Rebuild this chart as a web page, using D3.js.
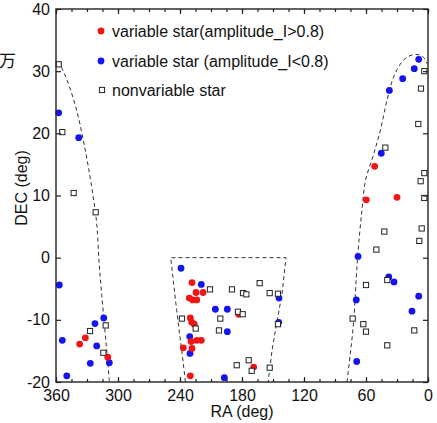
<!DOCTYPE html>
<html><head><meta charset="utf-8">
<script src="https://cdn.jsdelivr.net/npm/d3@7"></script>
<style>
html,body{margin:0;padding:0;background:#fff;}
svg{display:block;font-family:"Liberation Sans",Arial,sans-serif;}
</style></head>
<body><svg id="c" width="437" height="423"></svg>
<script>
// ---- data (RA deg, DEC deg) ----
const redStars = [
  [337.1,-13.9],[331.6,-12.9],[309.9,-16.0],
  [228.4,-4.0],[224.5,-5.6],[217.7,-5.6],[231.0,-6.5],[227.7,-6.8],[223.8,-6.8],
  [230.0,-9.7],[228.7,-10.4],[226.2,-10.7],[229.3,-13.5],[223.8,-13.3],[219.4,-13.3],
  [236.8,-14.5],[228.4,-14.6],[230.0,-19.0],[183.2,-9.1],[168.7,-17.6],
  [51.6,14.7],[59.7,9.3],[30.0,9.7]
];
const blueStars = [
  [357.4,23.3],[338.0,19.3],[356.8,-4.4],[353.9,-13.3],[349.6,-19.0],[322.3,-10.6],
  [313.8,-9.7],[320.6,-14.2],[326.8,-17.0],[308.4,-16.9],
  [239.0,-1.7],[219.4,-4.3],[205.8,-8.3],[230.6,-12.7],[230.3,-15.4],[194.2,-8.3],
  [194.2,-11.9],[144.2,-6.5],[144.5,-10.4],[197.1,-19.3],
  [67.7,0.2],[38.0,-3.1],[32.9,-3.9],[9.0,-6.2],[15.5,-8.6],[69.4,-6.8],[69.0,-16.7],
  [9.0,31.9],[13.3,30.4],[24.5,28.8],[37.4,26.9],[45.2,16.8]
];
const nonvarStars = [
  [357.4,31.1],[353.9,20.2],[342.9,10.4],[321.6,7.3],[327.1,-11.8],[311.9,-10.9],[314.2,-15.3],
  [211.0,-5.1],[238.1,-9.8],[224.8,-11.4],[201.0,-9.8],[202.3,-11.7],[189.7,-5.1],[179.0,-5.7],
  [175.8,-5.9],[162.9,-4.1],[153.2,-5.7],[145.2,-5.8],[183.9,-8.7],[179.3,-9.1],[145.2,-10.7],
  [173.5,-16.5],[185.1,-17.3],[170.6,-18.2],[153.2,-17.7],
  [42.3,4.2],[6.1,4.7],[8.4,2.7],[50.0,1.3],[60.0,-4.4],[39.4,-3.6],[72.9,-9.8],[62.6,-10.7],
  [60.0,-11.9],[13.3,-11.7],[39.4,-14.1],
  [3.6,30.0],[6.8,27.2],[9.4,21.5],[41.3,17.7],[3.6,13.6],[7.1,12.3],[3.6,9.6]
];
// observable-region boundaries (dashed)
const boundaryLeft = [
  [359.0,31.5],[356.1,31.0],[348.1,28.0],[340.0,23.7],[333.6,18.9],[328.7,14.6],[323.9,9.7],
  [320.6,5.5],[318.4,-0.5],[315.8,-5.9],[312.6,-11.8],[310.3,-16.1],[308.3,-20]
];
const boundaryRight = [
  [78.4,-20],[75.2,-15.5],[71.9,-10.2],[69.4,-3.2],[67.1,2.2],[63.9,7.6],[60.5,12.4],
  [52.5,16.7],[46.1,20.5],[39.7,25.3],[33.2,29.1],[25.2,31.5],[18.7,32.4],[10.6,32.7],
  [4.2,32.2],[1.0,31.2]
];
const boundaryMid = [
  [234.8,-20],[235.2,-19.3],[238.3,-15.0],[243.2,-8.5],[249.0,0],
  [137.4,0],[141.3,-5.9],[146.1,-10.2],[151.0,-15.0],[154.2,-19.3],[154.6,-20]
];
const xMajor = [360,300,240,180,120,60,0];
const xMinor = d3.range(0,361,15);
const yMajor = [40,30,20,10,0,-10,-20];
const legendLabels = ["variable star(amplitude_I>0.8)","variable star (amplitude_I<0.8)","nonvariable star"];
const xTitle = "RA (deg)", yTitle = "DEC (deg)";

// ---- layout ----
const L=56, R=428, T=9, B=382;
const svg = d3.select("#c");
const x = d3.scaleLinear().domain([360,0]).range([L,R]);
const y = d3.scaleLinear().domain([-20,40]).range([B,T]);
const RED="#f01414", BLUE="#1414ee";

// partial glyph at top-left
svg.append("text").attr("x",-1).attr("y",67).attr("font-family","'Noto Sans CJK SC'")
  .attr("font-size",17).attr("fill","#111").text("万");

// dashed boundaries
const line = d3.line().x(d=>x(d[0])).y(d=>y(d[1])).curve(d3.curveCatmullRom);
const lineMid = d3.line().x(d=>x(d[0])).y(d=>y(d[1])).curve(d3.curveLinear);
[boundaryLeft,boundaryRight].forEach(b=>{
  svg.append("path").attr("d",line(b)).attr("fill","none").attr("stroke","#333")
    .attr("stroke-width",1).attr("stroke-dasharray","4,3");
});
svg.append("path").attr("d",lineMid(boundaryMid)).attr("fill","none").attr("stroke","#333")
  .attr("stroke-width",1).attr("stroke-dasharray","4,3");

// markers
const S=5.2;
svg.append("g").selectAll("circle").data(blueStars).join("circle")
  .attr("cx",d=>x(d[0])).attr("cy",d=>y(d[1])).attr("r",3.4).attr("fill",BLUE);
svg.append("g").selectAll("circle").data(redStars).join("circle")
  .attr("cx",d=>x(d[0])).attr("cy",d=>y(d[1])).attr("r",3.4).attr("fill",RED);
svg.append("g").selectAll("rect").data(nonvarStars).join("rect")
  .attr("x",d=>x(d[0])-S/2).attr("y",d=>y(d[1])-S/2).attr("width",S).attr("height",S)
  .attr("fill","#fff").attr("stroke","#222").attr("stroke-width",1);

// axes
const fmt = d3.format("d");
svg.append("g").attr("transform",`translate(0,${B})`)
  .call(d3.axisBottom(x).tickValues(xMajor).tickSize(-5).tickPadding(8).tickFormat(fmt));
svg.append("g").attr("transform",`translate(0,${B})`)
  .call(d3.axisBottom(x).tickValues(xMinor).tickSize(-3).tickFormat(""));
svg.append("g").attr("transform",`translate(0,${T})`)
  .call(d3.axisTop(x).tickValues(xMajor).tickSize(-5).tickFormat(""));
svg.append("g").attr("transform",`translate(0,${T})`)
  .call(d3.axisTop(x).tickValues(xMinor).tickSize(-3).tickFormat(""));
const gL = svg.append("g").attr("transform",`translate(${L},0)`)
  .call(d3.axisLeft(y).tickValues(yMajor).tickSize(-5).tickPadding(6).tickFormat(fmt));
svg.append("g").attr("transform",`translate(${R},0)`)
  .call(d3.axisRight(y).tickValues(yMajor).tickSize(-5).tickFormat(""));
svg.selectAll(".domain").remove();
svg.selectAll(".tick line").attr("stroke","#222").attr("stroke-width",1.2);
svg.selectAll(".tick text").attr("font-size",16).attr("fill","#111")
  .attr("font-family","'Liberation Sans',Arial,sans-serif");
gL.selectAll(".tick text").text(d=>d<0?"-"+Math.abs(d):d);

// frame
svg.append("rect").attr("x",L).attr("y",T).attr("width",R-L).attr("height",B-T)
  .attr("fill","none").attr("stroke","#222").attr("stroke-width",1.4);

// titles
svg.append("text").attr("x",(L+R)/2).attr("y",417).attr("text-anchor","middle")
  .attr("font-size",16).attr("fill","#111").text(xTitle);
svg.append("text").attr("transform","translate(27,188) rotate(-90)").attr("text-anchor","middle")
  .attr("font-size",16).attr("fill","#111").text(yTitle);

// legend
const legY=[31,61,90];
svg.append("circle").attr("cx",101).attr("cy",legY[0]).attr("r",3.4).attr("fill",RED);
svg.append("circle").attr("cx",101).attr("cy",legY[1]).attr("r",3.4).attr("fill",BLUE);
svg.append("rect").attr("x",102-S/2).attr("y",legY[2]-S/2).attr("width",S).attr("height",S)
  .attr("fill","#fff").attr("stroke","#222").attr("stroke-width",1);
legendLabels.forEach((t,i)=>{
  svg.append("text").attr("x",112).attr("y",legY[i]+5.5).attr("font-size",16)
    .attr("fill","#111").text(t);
});
</script></body></html>
